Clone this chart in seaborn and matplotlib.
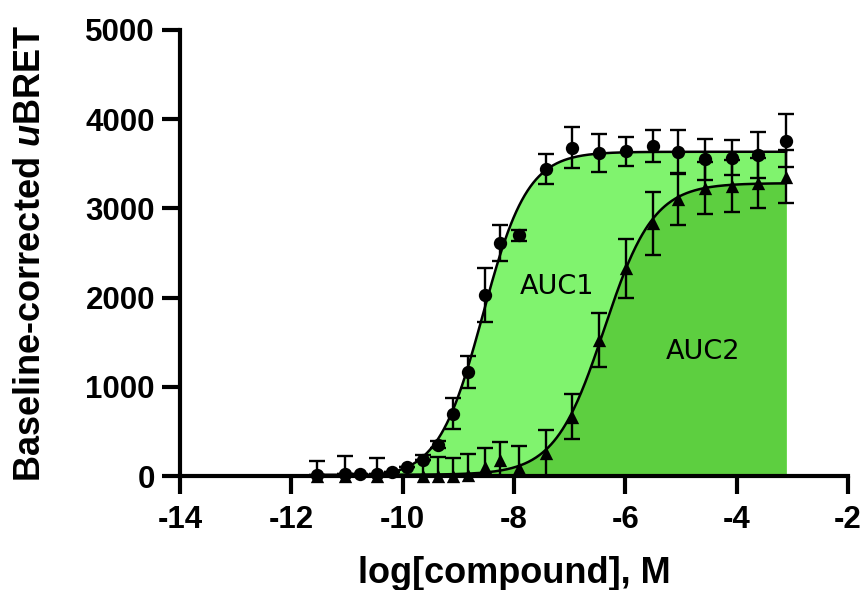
import numpy as np
import pandas as pd
import matplotlib
matplotlib.use("Agg")
import matplotlib.pyplot as plt
import seaborn as sns

# log[compound] (M) vs baseline-corrected uBRET
circle_x = [-11.54, -11.04, -10.77, -10.47, -10.20, -9.93, -9.64, -9.36, -9.09, -8.82,
            -8.52, -8.26, -7.91, -7.43, -6.95, -6.47, -5.99, -5.51, -5.05, -4.57,
            -4.09, -3.61, -3.11]
circle_y = [15, 25, 20, 20, 48, 105, 180, 350, 700, 1170,
            2030, 2610, 2700, 3440, 3680, 3620, 3640, 3700, 3635, 3550,
            3570, 3600, 3760]
circle_err = [0, 0, 0, 0, 0, 0, 0, 40, 170, 178,
              300, 200, 60, 170, 230, 210, 160, 180, 240, 230,
              200, 260, 300]

tri_x = [-11.54, -11.04, -10.47, -9.64, -9.36, -9.09, -8.82, -8.52, -8.26, -7.91,
         -7.43, -6.95, -6.47, -5.99, -5.51, -5.05, -4.57, -4.09, -3.61, -3.11]
tri_y = [5, 5, 5, 0, 0, 0, 10, 105, 180, 90,
         255, 665, 1525, 2330, 2833, 3100, 3225, 3250, 3280, 3355]
tri_err = [160, 220, 200, 230, 215, 200, 240, 210, 205, 250,
           260, 250, 300, 330, 350, 290, 290, 290, 280, 300]

x_ticks = [-14, -12, -10, -8, -6, -4, -2]
y_ticks = [0, 1000, 2000, 3000, 4000, 5000]

LIGHT = "#80F36E"
DARK = "#5DCF40"


def fit_4pl(x, y):
    """Least-squares 4-parameter logistic fit (grid over EC50/hill, linear in bottom/top)."""
    x = np.asarray(x, float)
    y = np.asarray(y, float)
    logec = np.arange(-12, -3, 0.02)
    hill = np.arange(0.3, 3.0, 0.02)
    L, H = np.meshgrid(logec, hill, indexing="ij")
    f = 1.0 / (1.0 + 10 ** ((L[..., None] - x) * H[..., None]))
    g = 1.0 - f
    a11 = (g * g).sum(-1)
    a12 = (g * f).sum(-1)
    a22 = (f * f).sum(-1)
    r1 = (g * y).sum(-1)
    r2 = (f * y).sum(-1)
    det = a11 * a22 - a12 ** 2
    b = (a22 * r1 - a12 * r2) / det
    t = (a11 * r2 - a12 * r1) / det
    sse = ((b[..., None] * g + t[..., None] * f - y) ** 2).sum(-1)
    i = np.unravel_index(np.nanargmin(sse), sse.shape)
    return b[i], t[i], L[i], H[i]


def curve(params, xs):
    b, t, ec, h = params
    return b + (t - b) / (1 + 10 ** ((ec - xs) * h))


sns.set_theme(style="ticks")
plt.rcParams.update({
    "font.family": "Liberation Sans",
    "font.weight": "bold",
    "text.color": "black",
    "mathtext.fontset": "custom",
    "mathtext.rm": "Liberation Sans:bold",
    "mathtext.bf": "Liberation Sans:bold",
    "mathtext.it": "Liberation Sans:italic:bold",
})

fig = plt.figure(figsize=(8.62, 5.90), dpi=100)
ax = fig.add_axes([0.2088, 0.1932, 0.7750, 0.7560])

xs_c = np.linspace(min(circle_x), max(circle_x), 500)
xs_t = np.linspace(min(tri_x), max(tri_x), 500)
fit_c = curve(fit_4pl(circle_x, circle_y), xs_c)
fit_t = curve(fit_4pl(tri_x, tri_y), xs_t)
curves = pd.concat([
    pd.DataFrame({"x": xs_c, "y": fit_c, "series": "circle"}),
    pd.DataFrame({"x": xs_t, "y": fit_t, "series": "triangle"}),
])

ax.fill_between(xs_c, 0, fit_c, color=LIGHT, lw=0, zorder=1)
ax.fill_between(xs_t, 0, fit_t, color=DARK, lw=0, zorder=2)

sns.lineplot(data=curves, x="x", y="y", units="series", estimator=None,
             color="black", lw=1.8, ax=ax, zorder=3)

ax.errorbar(circle_x, circle_y, yerr=circle_err, fmt="none", ecolor="black",
            elinewidth=1.7, capsize=5.5, capthick=1.7, zorder=4)
ax.errorbar(tri_x, tri_y, yerr=tri_err, fmt="none", ecolor="black",
            elinewidth=1.7, capsize=5.5, capthick=1.7, zorder=4)

sns.scatterplot(x=circle_x, y=circle_y, marker="o", s=92, color="black",
                edgecolor="black", linewidth=0, ax=ax, zorder=5)
sns.scatterplot(x=tri_x, y=tri_y, marker="^", s=92, color="black",
                edgecolor="black", linewidth=0, ax=ax, zorder=5)
for coll in ax.collections[-2:]:
    coll.set_clip_on(False)

ax.text(-7.23, 2120, "AUC1", fontsize=19.5, fontweight="normal", color="black",
        family="DejaVu Sans", ha="center", va="center", zorder=6)
ax.text(-4.61, 1390, "AUC2", fontsize=19.5, fontweight="normal", color="black",
        family="DejaVu Sans", ha="center", va="center", zorder=6)

ax.set_xlim(-14, -2)
ax.set_ylim(0, 5000)
ax.set_xticks(x_ticks)
ax.set_yticks(y_ticks)
ax.set_xticklabels([str(v) for v in x_ticks])
ax.set_yticklabels([str(v) for v in y_ticks])
sns.despine(ax=ax)
for side in ("left", "bottom"):
    ax.spines[side].set_linewidth(3)
    ax.spines[side].set_color("black")
    ax.spines[side].set_zorder(7)
ax.tick_params(axis="both", length=13, width=3, color="black",
               labelsize=22.5, labelcolor="black")
ax.tick_params(axis="x", pad=8)
ax.tick_params(axis="y", pad=5)
for lab in ax.get_xticklabels() + ax.get_yticklabels():
    lab.set_fontweight("bold")

ax.set_xlabel("log[compound], M", fontsize=26, fontweight="bold", color="black")
ax.set_ylabel(r"Baseline-corrected $\mathit{u}$BRET", fontsize=26,
              fontweight="bold", color="black")
ax.xaxis.set_label_coords(0.5, -0.18)
ax.yaxis.set_label_coords(-0.197, 0.5)

fig.savefig("out.png", dpi=100)
